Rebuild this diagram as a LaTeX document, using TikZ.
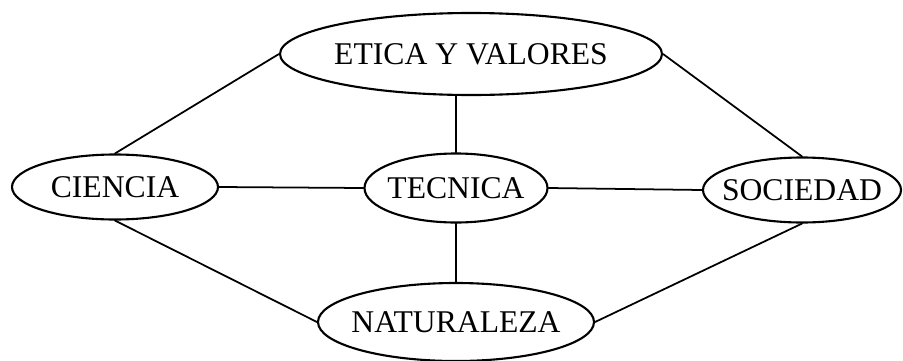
\documentclass[tikz,border=0pt]{standalone}
\usepackage{fontspec}
\setmainfont{Liberation Serif}
\usetikzlibrary{shapes.geometric}
\begin{document}
\begin{tikzpicture}[x=0.03cm, y=-0.03cm, font=\fontsize{27}{32}\selectfont, line join=round, line cap=round,
	oval/.style={ellipse, draw, line width=1.8pt, inner sep=-1cm},
	enlace/.style={line width=1.5pt}]
	\useasboundingbox (0,0) rectangle (903,360);
	% Nodos
	\node[oval, minimum width=11.46cm, minimum height=2.46cm] (etica) at (471,54) {ETICA Y VALORES};
	\node[oval, minimum width=6.18cm, minimum height=1.95cm] (ciencia) at (115,187) {CIENCIA};
	\node[oval, minimum width=5.49cm, minimum height=2.07cm] (tecnica) at (456,188) {TECNICA};
	\node[oval, minimum width=5.94cm, minimum height=1.95cm] (sociedad) at (802,190) {SOCIEDAD};
	\node[oval, minimum width=8.28cm, minimum height=2.34cm] (naturaleza) at (456,322) {NATURALEZA};
	% Enlaces
	\draw[enlace] (etica.west)--(ciencia.north);
	\draw[enlace] (etica.east)--(sociedad.north);
	\draw[enlace] (tecnica.north)--(tecnica.north |- etica.south);
	\draw[enlace] (ciencia.east)--(tecnica.west);
	\draw[enlace] (tecnica.east)--(sociedad.west);
	\draw[enlace] (tecnica.south)--(naturaleza.north);
	\draw[enlace] (ciencia.south)--(naturaleza.west);
	\draw[enlace] (sociedad.south)--(naturaleza.east);
\end{tikzpicture}
\end{document}
